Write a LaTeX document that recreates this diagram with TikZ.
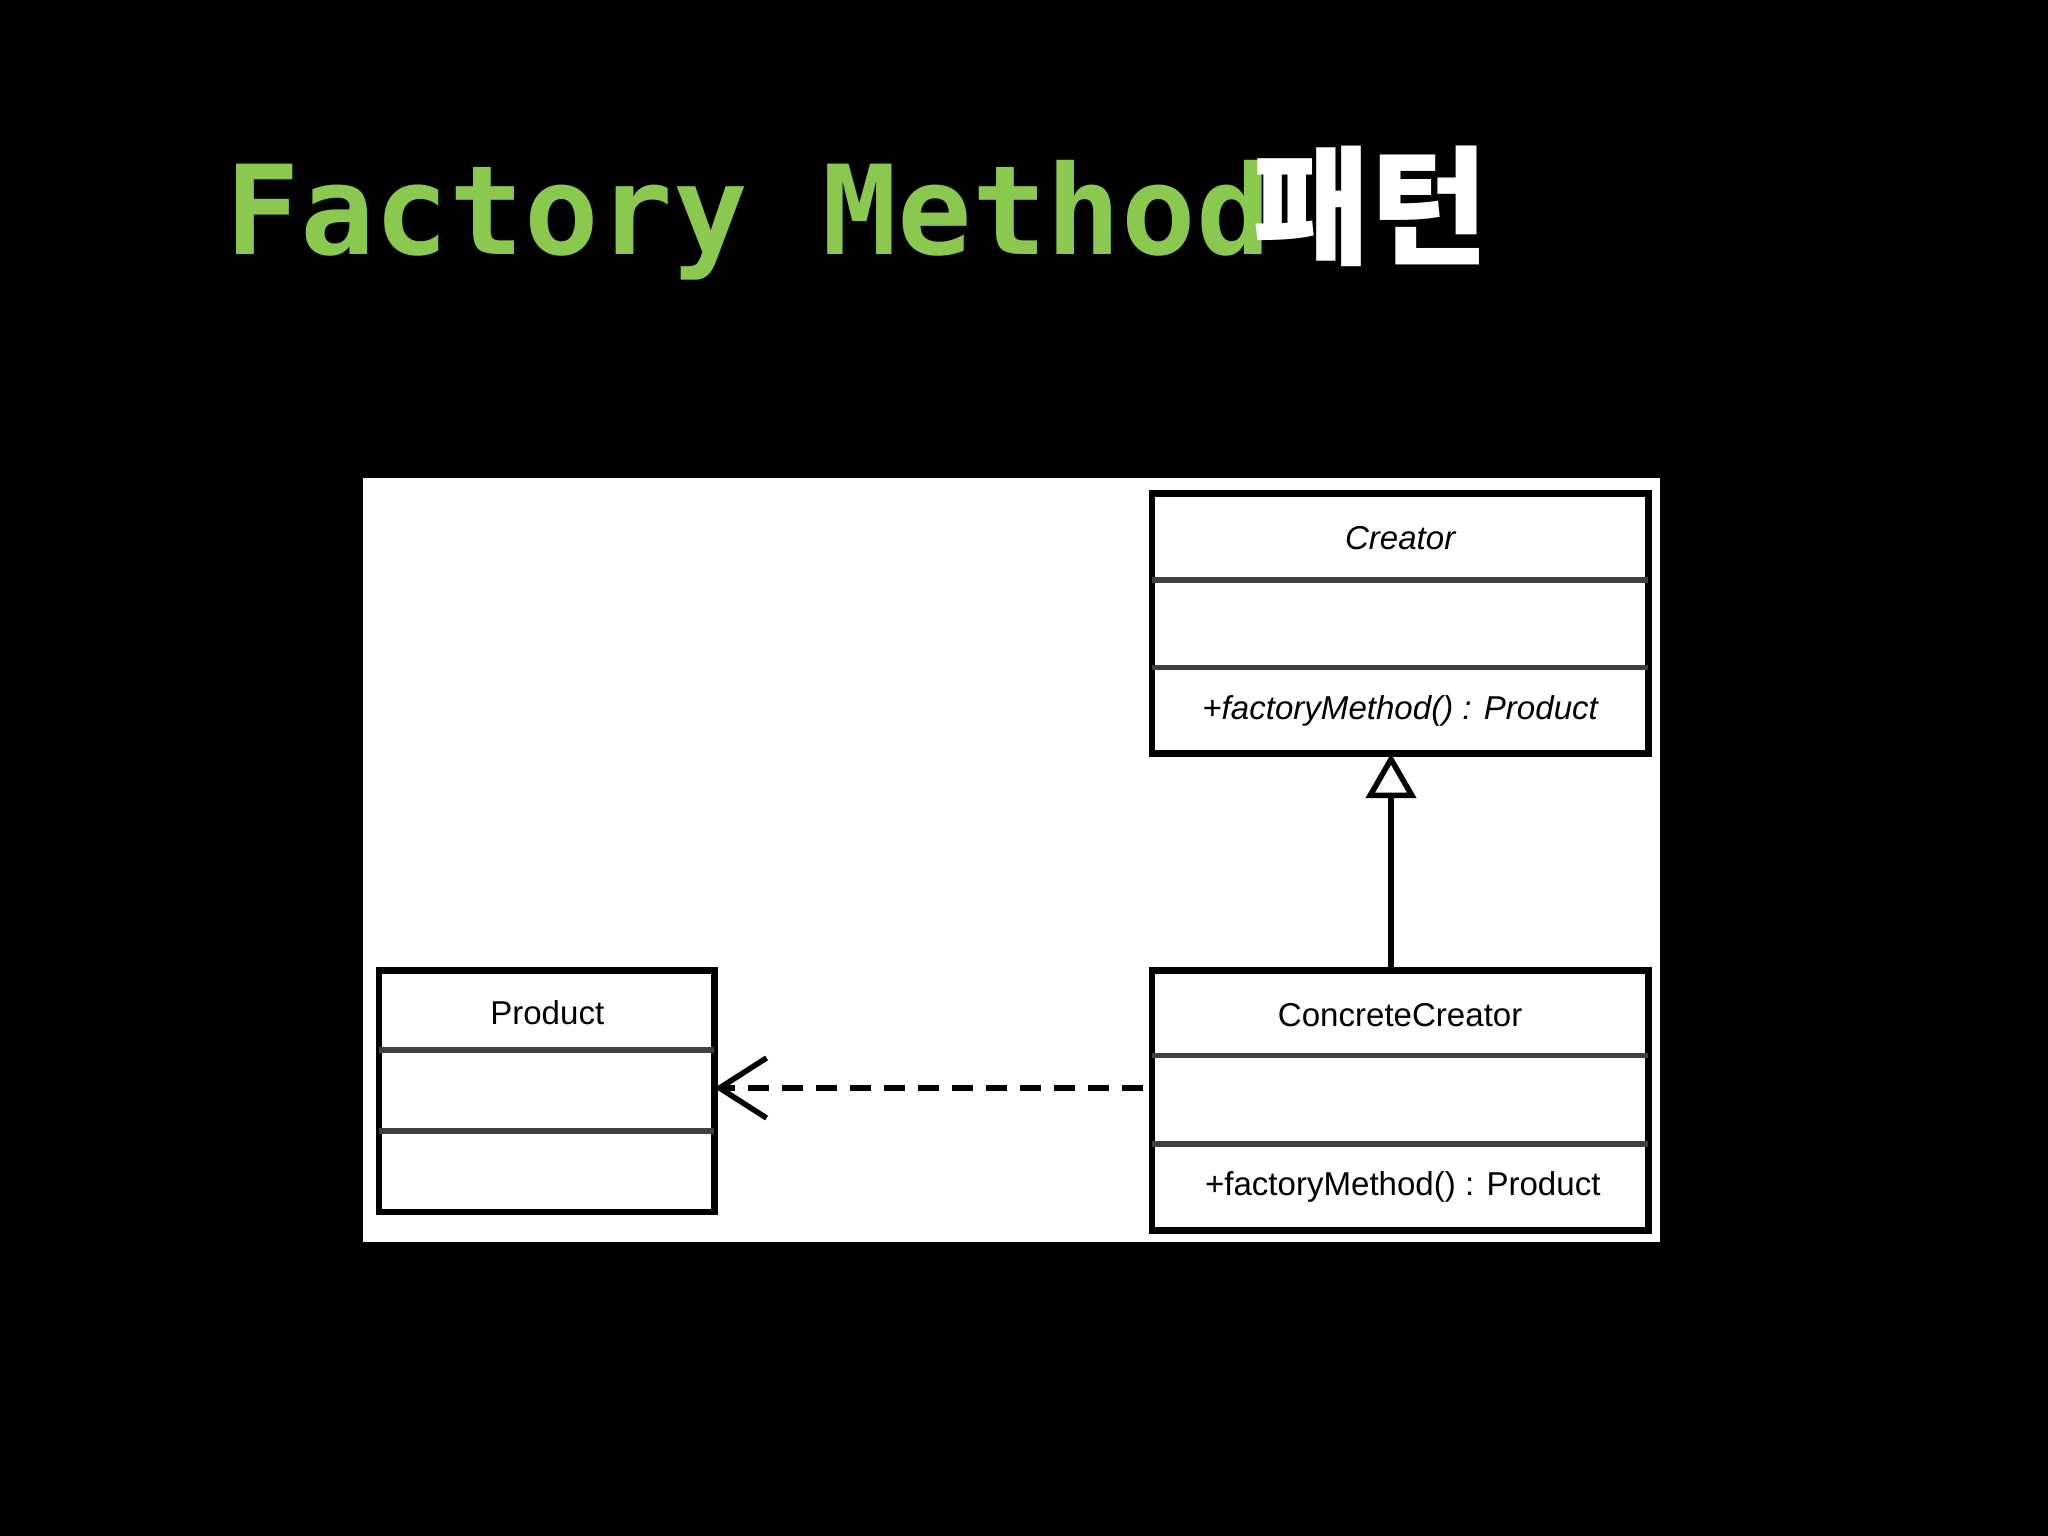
\documentclass[tikz,border=0pt]{standalone}
\usepackage{fontspec}
\setmainfont{Liberation Sans}
\newfontfamily\titlemono{DejaVu Sans Mono}
\newfontfamily\cjk{Noto Sans CJK KR}
\usetikzlibrary{arrows.meta}
\definecolor{tgreen}{RGB}{139,200,80}
\begin{document}
\begin{tikzpicture}[x=0.01cm,y=-0.01cm,
  box/.style={draw=black,line width=1.4pt,fill=white},
  div/.style={draw=black!75,line width=1.2pt},
  lbl/.style={font=\fontsize{7.2}{8}\selectfont,text=black}]
\fill[black] (0,0) rectangle (1568,1176);
\useasboundingbox (0,0) rectangle (1568,1176);
\node[anchor=base west,inner sep=0,text=tgreen,font=\titlemono\bfseries\fontsize{27}{30}\selectfont] (t1) at (172,195) {Factory Method};
\node[anchor=base west,inner sep=0,text=white,font=\cjk\bfseries\fontsize{28}{30}\selectfont] (t2) at (958,195) {패턴};
\fill[white] (278,366) rectangle (1271,951);
% Creator
\draw[box] (882,378) rectangle (1262,577);
\draw[div] (882,444) -- (1262,444); \draw[div] (882,511) -- (1262,511);
\node[lbl,font=\itshape\fontsize{7.2}{8}\selectfont] (cr) at (1072,412) {Creator};
\node[lbl,font=\itshape\fontsize{7.2}{8}\selectfont] (crm) at (1072,544) {+factoryMethod() : Product};
\coordinate (crb) at (1065,577);
% ConcreteCreator
\draw[box] (882,743) rectangle (1262,942);
\draw[div] (882,808) -- (1262,808); \draw[div] (882,876) -- (1262,876);
\node[lbl] (cc) at (1072,777) {ConcreteCreator};
\node[lbl] (ccm) at (1074,909) {+factoryMethod() : Product};
\coordinate (cct) at (1065,743);
\coordinate (ccl) at (875,833);
% Product
\draw[box] (290,743) rectangle (547,928);
\draw[div] (290,804) -- (547,804); \draw[div] (290,866) -- (547,866);
\node[lbl] (pr) at (419,775) {Product};
\coordinate (prr) at (547,833);
% connectors
\draw[line width=1.2pt,-{Triangle[open,length=0.34cm,width=0.38cm]}] (cct) -- (crb);
\draw[line width=1.2pt,dash pattern=on 0.16cm off 0.1cm,-{Straight Barb[length=0.36cm,width=0.46cm]}] (ccl) -- (prr);
\end{tikzpicture}
\end{document}
